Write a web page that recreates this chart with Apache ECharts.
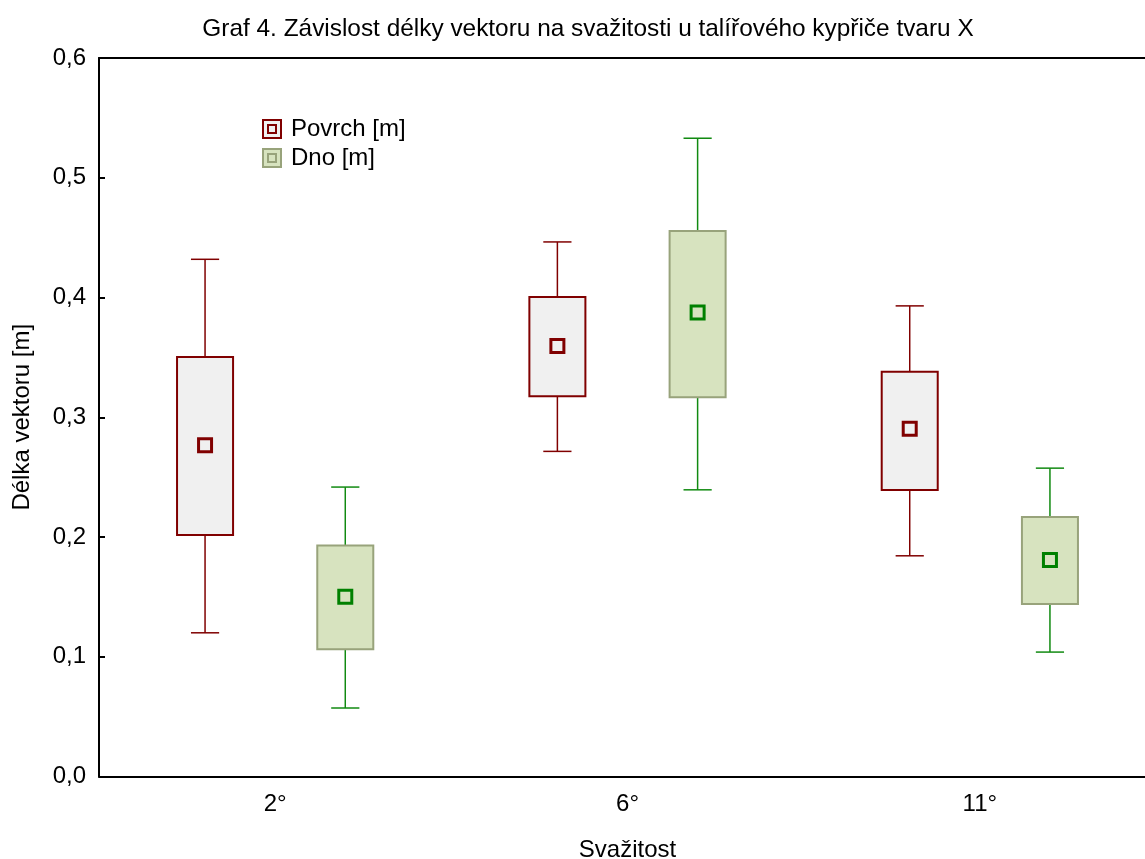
<!DOCTYPE html>
<html>
<head>
<meta charset="utf-8">
<script src="https://cdn.jsdelivr.net/npm/echarts@6/dist/echarts.min.js"></script>
<style>html,body{margin:0;padding:0;background:#fff;}#c{width:1145px;height:859px;}</style>
</head>
<body>
<div id="c"></div>
<script>
// Data
var categories = ['2°', '6°', '11°'];
var seriesNames = ['Povrch [m]', 'Dno [m]'];
var yTickLabels = ['0,0', '0,1', '0,2', '0,3', '0,4', '0,5', '0,6'];
// per category: [whisker low, box low, mean, box high, whisker high]
var povrchStats = [
  [0.120, 0.2016, 0.2767, 0.3504, 0.4319],
  [0.2715, 0.3176, 0.3596, 0.4005, 0.4464],
  [0.1843, 0.2392, 0.2903, 0.3379, 0.3930]
];
var dnoStats = [
  [0.0572, 0.1062, 0.1501, 0.1928, 0.2417],
  [0.2394, 0.3168, 0.3875, 0.4556, 0.5330],
  [0.1039, 0.1440, 0.1807, 0.2166, 0.2575]
];

var FONT = '"Liberation Sans", Arial, sans-serif';

function toData(stats) {
  return stats.map(function (s, i) { return [i].concat(s); });
}

function makeRender(offsetFrac, style) {
  return function (params, api) {
    var band = api.size([1, 0])[0];
    var cx = api.coord([api.value(0), 0])[0] + band * offsetFrac;
    var yWl = api.coord([0, api.value(1)])[1];
    var yBl = api.coord([0, api.value(2)])[1];
    var yM = api.coord([0, api.value(3)])[1];
    var yBh = api.coord([0, api.value(4)])[1];
    var yWh = api.coord([0, api.value(5)])[1];
    var bw = band * 0.159;
    var cw = band * 0.08;
    var ms = 13;
    return {
      type: 'group',
      children: [
        { type: 'line', shape: { x1: cx, y1: yWh, x2: cx, y2: yBh }, style: { stroke: style.whisker, lineWidth: 1.5 } },
        { type: 'line', shape: { x1: cx, y1: yBl, x2: cx, y2: yWl }, style: { stroke: style.whisker, lineWidth: 1.5 } },
        { type: 'line', shape: { x1: cx - cw / 2, y1: yWh, x2: cx + cw / 2, y2: yWh }, style: { stroke: style.whisker, lineWidth: 1.5 } },
        { type: 'line', shape: { x1: cx - cw / 2, y1: yWl, x2: cx + cw / 2, y2: yWl }, style: { stroke: style.whisker, lineWidth: 1.5 } },
        { type: 'rect', shape: { x: cx - bw / 2, y: yBh, width: bw, height: yBl - yBh }, style: { fill: style.fill, stroke: style.border, lineWidth: 2 } },
        { type: 'rect', shape: { x: cx - ms / 2, y: yM - ms / 2, width: ms, height: ms }, style: { fill: style.fill, stroke: style.mean, lineWidth: 3 } }
      ]
    };
  };
}

var povrchStyle = { fill: '#f0f0f0', border: '#800000', whisker: '#800000', mean: '#800000' };
var dnoStyle = { fill: '#d7e3bf', border: '#98a37b', whisker: '#118a11', mean: '#008000' };

var legendIcon = 'path://M0,0H18V18H0Z M5,5H13V13H5Z';

var chart = echarts.init(document.getElementById('c'), null, { renderer: 'canvas' });
chart.setOption({
  backgroundColor: '#ffffff',
  animation: false,
  title: {
    text: 'Graf 4. Závislost délky vektoru na svažitosti u talířového kypřiče tvaru X',
    left: 583, top: 12, textAlign: 'center',
    textStyle: { fontFamily: FONT, fontSize: 24.4, fontWeight: 'normal', color: '#000' }
  },
  legend: {
    orient: 'vertical', left: 262, top: 117, padding: 0,
    itemWidth: 18, itemHeight: 18, itemGap: 5,
    textStyle: { fontFamily: FONT, fontSize: 24, color: '#000', padding: [0, 0, 0, 5] },
    data: [
      { name: seriesNames[0], icon: legendIcon, itemStyle: { color: povrchStyle.fill, borderColor: povrchStyle.border, borderWidth: 2 } },
      { name: seriesNames[1], icon: legendIcon, itemStyle: { color: dnoStyle.fill, borderColor: dnoStyle.border, borderWidth: 2 } }
    ],
    selectedMode: false
  },
  grid: { left: 99, top: 58, right: -11, bottom: 82.5, containLabel: false, outerBoundsMode: 'none' },
  xAxis: [
    {
      type: 'category', data: categories, position: 'bottom',
      name: 'Svažitost', nameLocation: 'middle', nameGap: 62,
      nameTextStyle: { fontFamily: FONT, fontSize: 24, color: '#000' },
      axisLine: { lineStyle: { color: '#000', width: 2 } },
      axisTick: { inside: true, length: 6, alignWithLabel: true, lineStyle: { color: '#000', width: 2 } },
      axisLabel: { fontFamily: FONT, fontSize: 24, color: '#000', margin: 16 },
      splitLine: { show: false }
    },
    {
      type: 'category', data: categories, position: 'top',
      axisLine: { lineStyle: { color: '#000', width: 2 } },
      axisTick: { inside: true, length: 6, alignWithLabel: true, lineStyle: { color: '#000', width: 2 } },
      axisLabel: { show: false },
      splitLine: { show: false }
    }
  ],
  yAxis: {
    type: 'value', min: 0, max: 0.6, interval: 0.1,
    name: 'Délka vektoru [m]', nameLocation: 'middle', nameGap: 65,
    nameTextStyle: { fontFamily: FONT, fontSize: 24, color: '#000' },
    axisLine: { show: true, lineStyle: { color: '#000', width: 2 } },
    axisTick: { show: true, inside: true, length: 6, lineStyle: { color: '#000', width: 2 } },
    axisLabel: {
      fontFamily: FONT, fontSize: 24, color: '#000', margin: 13,
      formatter: function (v) { return yTickLabels[Math.round(v * 10)]; }
    },
    splitLine: { show: false }
  },
  series: [
    {
      name: seriesNames[0], type: 'custom', xAxisIndex: 0,
      itemStyle: { color: povrchStyle.fill, borderColor: povrchStyle.border },
      renderItem: makeRender(-0.199, povrchStyle),
      encode: { x: 0, y: [1, 2, 3, 4, 5] },
      data: toData(povrchStats)
    },
    {
      name: seriesNames[1], type: 'custom', xAxisIndex: 0,
      itemStyle: { color: dnoStyle.fill, borderColor: dnoStyle.border },
      renderItem: makeRender(0.199, dnoStyle),
      encode: { x: 0, y: [1, 2, 3, 4, 5] },
      data: toData(dnoStats)
    }
  ]
});
</script>
</body>
</html>
